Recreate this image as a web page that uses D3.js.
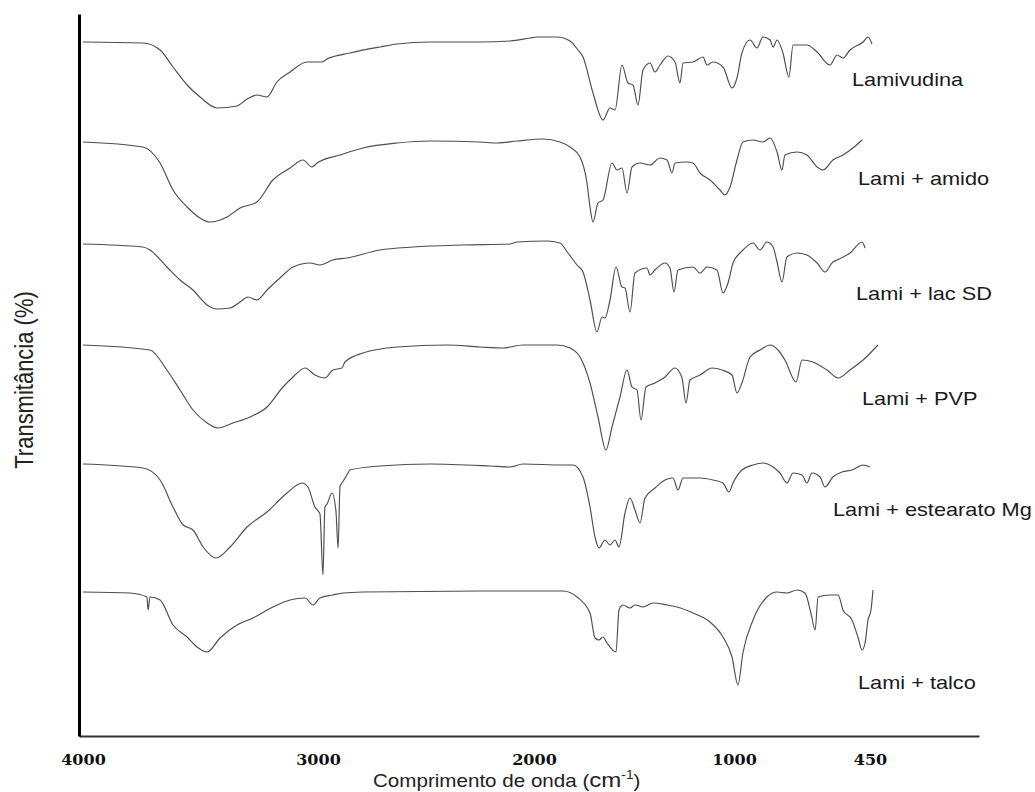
<!DOCTYPE html>
<html>
<head>
<meta charset="utf-8">
<script src="https://cdn.jsdelivr.net/npm/d3@7"></script>
<style>
  body { margin: 0; background: #fff; }
  svg { display: block; }
</style>
</head>
<body>
<div id="chart"></div>
<script>
// FTIR spectra, [wavenumber cm-1, stacked transmittance (arbitrary units)]
const lamivudina = [[4000,694],[3745,693],[3672,686],[3617,669],[3557,651],[3502,639],[3430,628],[3345,630],[3302,637],[3260,641],[3217,639],[3175,654],[3119,664],[3047,674],[2981,674],[2958,677],[2852,683],[2713,689],[2634,692],[2481,694],[2250,694],[2111,695],[2018,698],[1985,699],[1885,699],[1820,695],[1780,686],[1755,679],[1705,643],[1655,616],[1620,628],[1595,626],[1560,671],[1530,653],[1505,651],[1480,631],[1455,666],[1420,673],[1395,664],[1370,671],[1330,680],[1295,674],[1270,653],[1255,673],[1205,674],[1155,679],[1135,671],[1105,674],[1055,669],[1010,648],[988,658],[968,683],[935,696],[907,688],[883,699],[854,696],[842,689],[826,696],[802,683],[778,659],[761,691],[705,691],[664,684],[612,671],[583,681],[559,678],[531,686],[478,694],[458,699],[442,692]];

const lamiAmido = [[4000,594],[3745,589],[3672,573],[3617,546],[3557,529],[3502,518],[3460,514],[3387,519],[3332,528],[3260,534],[3192,556],[3119,568],[3064,576],[3026,569],[3004,573],[2898,581],[2792,588],[2634,593],[2481,595],[2250,594],[2171,593],[2079,595],[1955,597],[1870,594],[1820,589],[1770,579],[1735,553],[1720,529],[1705,514],[1680,533],[1655,536],[1610,573],[1585,566],[1560,568],[1535,543],[1510,569],[1470,573],[1420,571],[1370,578],[1335,576],[1310,563],[1295,573],[1235,574],[1205,573],[1170,563],[1120,556],[1070,546],[1045,541],[1020,549],[988,576],[964,594],[923,596],[883,594],[854,598],[826,584],[806,566],[794,581],[745,584],[705,581],[664,569],[640,566],[600,576],[559,581],[519,588],[482,596]];

const lamiLacSD = [[4000,492],[3745,489],[3715,486],[3643,469],[3587,456],[3532,446],[3472,431],[3430,427],[3374,428],[3332,434],[3298,439],[3260,436],[3217,446],[3162,458],[3106,469],[3034,473],[2991,471],[2931,476],[2866,478],[2713,486],[2560,489],[2329,491],[2111,492],[2079,494],[1935,495],[1870,493],[1830,483],[1785,471],[1755,464],[1720,436],[1685,404],[1660,419],[1645,418],[1620,436],[1590,469],[1560,449],[1545,448],[1520,424],[1495,463],[1435,468],[1420,461],[1395,466],[1345,473],[1320,468],[1300,444],[1280,466],[1205,469],[1170,463],[1135,469],[1085,466],[1055,443],[1030,453],[1005,473],[976,483],[964,486],[923,493],[895,486],[867,494],[842,489],[826,474],[806,454],[786,479],[745,483],[705,481],[664,473],[632,464],[600,474],[583,476],[531,483],[482,494],[470,488]];

const lamiPVP = [[4000,391],[3715,386],[3643,366],[3587,346],[3532,326],[3472,313],[3426,308],[3362,313],[3289,319],[3217,329],[3149,349],[3106,359],[3055,368],[3013,361],[2968,358],[2931,366],[2889,368],[2875,374],[2792,383],[2634,389],[2403,391],[2250,389],[2143,388],[2051,391],[1885,391],[1820,388],[1770,379],[1720,353],[1680,319],[1640,286],[1610,309],[1570,339],[1535,366],[1510,349],[1485,346],[1465,316],[1440,349],[1395,353],[1345,359],[1295,368],[1260,358],[1240,333],[1220,356],[1170,361],[1110,368],[1060,366],[1010,361],[988,343],[968,353],[935,379],[895,386],[854,391],[822,386],[794,376],[749,354],[725,376],[681,374],[624,366],[579,358],[531,366],[478,376],[418,391]];

const lamiEstearato = [[4000,272],[3745,268],[3672,256],[3617,229],[3574,211],[3532,206],[3489,189],[3434,178],[3374,189],[3302,209],[3217,224],[3132,243],[3068,253],[3043,249],[3013,229],[2991,222],[2977,161],[2968,229],[2958,232],[2935,243],[2917,225],[2907,188],[2898,250],[2889,253],[2866,261],[2852,266],[2713,270],[2481,272],[2204,270],[2111,269],[2051,272],[1855,271],[1805,271],[1755,259],[1720,229],[1695,199],[1675,188],[1645,196],[1620,191],[1595,196],[1575,189],[1545,223],[1520,238],[1495,226],[1470,213],[1445,238],[1395,248],[1345,256],[1305,258],[1280,246],[1255,258],[1170,258],[1105,256],[1055,253],[1025,244],[1005,253],[968,266],[923,271],[883,273],[842,269],[814,263],[786,253],[761,263],[725,261],[705,253],[685,263],[652,259],[632,249],[600,259],[563,264],[523,266],[478,271],[450,269]];

const lamiTalco = [[4000,144],[3800,143],[3728,139],[3723,126],[3715,139],[3672,136],[3617,111],[3557,99],[3515,89],[3472,84],[3417,98],[3345,111],[3277,118],[3192,129],[3119,136],[3055,138],[3021,131],[2991,138],[2931,141],[2884,143],[2792,144],[2250,145],[1855,145],[1785,139],[1720,123],[1695,98],[1675,96],[1655,99],[1635,93],[1590,84],[1575,126],[1555,131],[1520,128],[1495,131],[1455,129],[1405,133],[1335,131],[1285,129],[1205,123],[1120,114],[1055,99],[1010,79],[984,51],[964,83],[923,116],[867,139],[826,144],[786,143],[745,146],[713,143],[689,123],[672,106],[660,139],[612,141],[579,141],[559,126],[523,116],[499,99],[482,86],[470,93],[458,116],[446,126],[438,146]];

const seriesNames = ["Lamivudina", "Lami + amido", "Lami + lac SD", "Lami + PVP", "Lami + estearato Mg", "Lami + talco"];
const seriesData = [lamivudina, lamiAmido, lamiLacSD, lamiPVP, lamiEstearato, lamiTalco];
const xTicks = [4000, 3000, 2000, 1000, 450];

const width = 1035, height = 792;
const stretch = 1.145; // text in the source figure is widened

const svg = d3.select("#chart").append("svg")
  .attr("width", width)
  .attr("height", height);

// printed axis is not uniform, so the scale is piecewise between the labelled ticks
const x = d3.scaleLinear()
  .domain([4017, 4000, 3000, 2000, 1000, 450, 9])
  .range([79, 83, 318, 534, 734, 870, 979]);
const y = d3.scaleLinear().domain([0, 722]).range([736, 14]);

// spectra
const line = d3.line()
  .x(d => x(d[0]))
  .y(d => y(d[1]))
  .curve(d3.curveMonotoneX);
svg.append("g")
  .selectAll("path")
  .data(seriesData)
  .join("path")
    .attr("fill", "none")
    .attr("stroke", "#4d4d4d")
    .attr("stroke-width", 1.15)
    .attr("stroke-linejoin", "round")
    .attr("d", line);

// axes
const xAxis = svg.append("g")
  .attr("transform", `translate(0,${y(0)})`)
  .call(d3.axisBottom(x).tickValues(xTicks).tickSize(0).tickSizeOuter(0).tickFormat(d3.format("d")));
xAxis.select(".domain").attr("stroke", "#333").attr("stroke-width", 2);
xAxis.selectAll("text")
  .attr("y", 29)
  .attr("dy", 0)
  .attr("transform", `scale(${stretch},1)`)
  .attr("fill", "#111")
  .style("font-family", "'DejaVu Serif', serif")
  .style("font-weight", "bold")
  .style("font-size", "14px");

const yAxis = svg.append("g")
  .attr("transform", `translate(${x(4017)},0)`)
  .call(d3.axisLeft(y).tickValues([]).tickSizeOuter(0));
yAxis.select(".domain").attr("stroke", "#000").attr("stroke-width", 3);

// series labels
const labelAt = [[852, 86], [858, 185], [856, 300], [862, 405], [833, 516], [858, 689]];
svg.append("g")
  .selectAll("text")
  .data(seriesNames)
  .join("text")
    .attr("transform", (d, i) => `translate(${labelAt[i][0]},${labelAt[i][1]}) scale(${stretch},1)`)
    .attr("fill", "#1a1a1a")
    .style("font-family", "'Liberation Sans', Arial, sans-serif")
    .style("font-size", "19px")
    .text(d => d);

// axis titles
svg.append("text")
  .attr("transform", `translate(33,380) rotate(-90) scale(1,${stretch})`)
  .attr("text-anchor", "middle")
  .attr("fill", "#222")
  .style("font-family", "'Liberation Sans', Arial, sans-serif")
  .style("font-size", "22px")
  .text("Transmitância (%)");

const xTitle = svg.append("text")
  .attr("transform", `translate(373,787) scale(${stretch},1)`)
  .attr("fill", "#222")
  .style("font-family", "'Liberation Sans', Arial, sans-serif")
  .style("font-size", "18px");
xTitle.append("tspan").text("Comprimento de onda (");
xTitle.append("tspan").style("font-size", "21px").text("cm");
xTitle.append("tspan").attr("dy", -8).style("font-size", "12px").text("-1");
xTitle.append("tspan").attr("dy", 8).text(")");
</script>
</body>
</html>
